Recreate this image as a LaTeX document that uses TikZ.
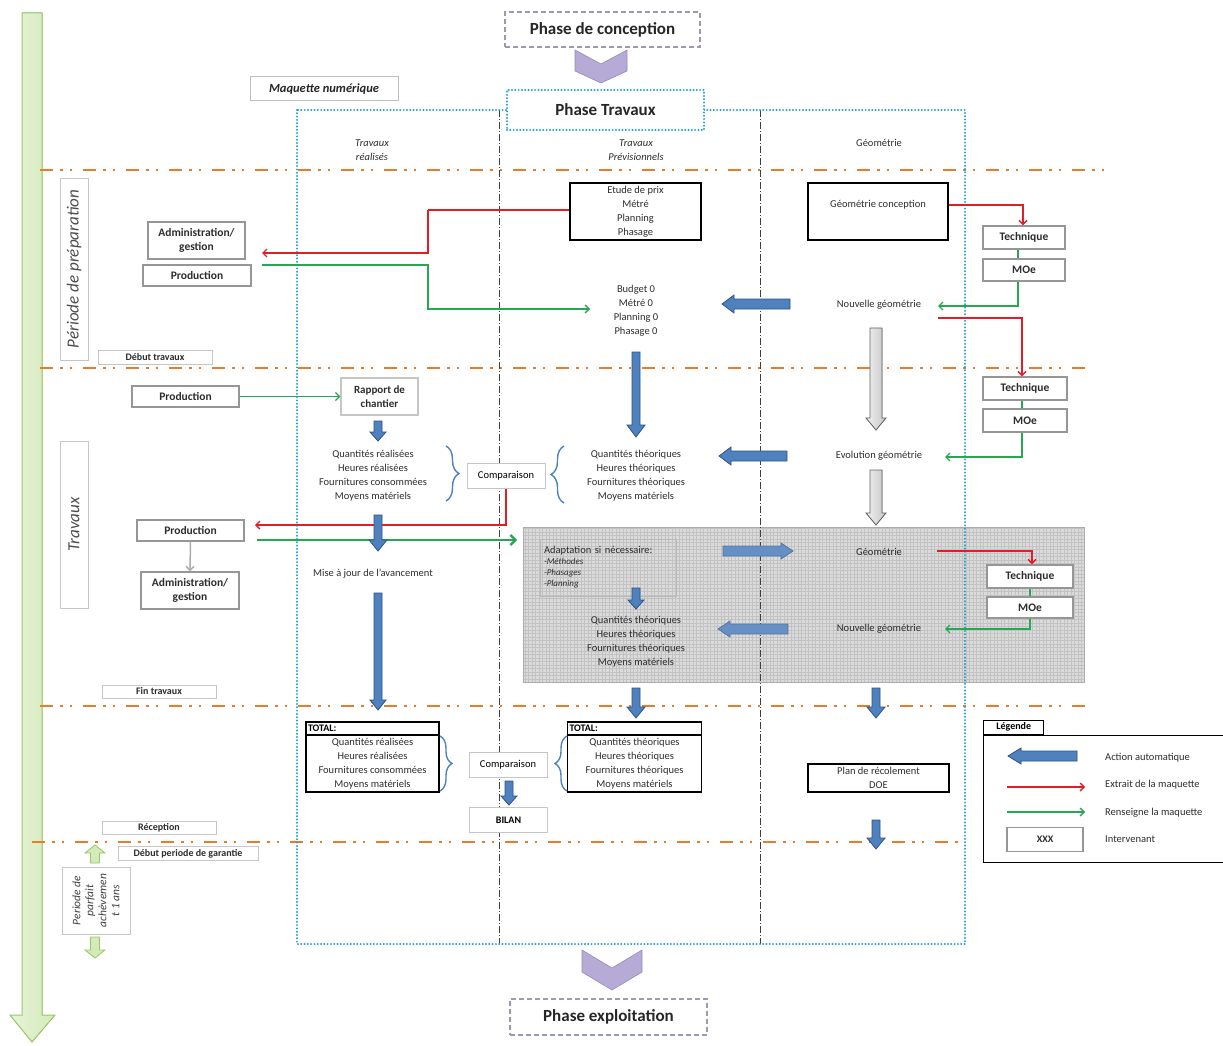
\documentclass[tikz,border=0pt]{standalone}
\usepackage{fontspec}
\setmainfont{Carlito}
\usetikzlibrary{arrows.meta,decorations.pathreplacing,calc}
\definecolor{orng}{RGB}{230,125,45}
\definecolor{cyanb}{RGB}{35,160,205}
\definecolor{redc}{RGB}{225,30,40}
\definecolor{greenc}{RGB}{38,168,82}
\definecolor{bluea}{RGB}{79,129,189}
\definecolor{blued}{RGB}{44,82,140}
\definecolor{purp}{RGB}{182,170,214}
\definecolor{purpd}{RGB}{150,140,185}
\definecolor{phasedash}{RGB}{160,150,180}
\definecolor{boxg}{RGB}{150,150,150}
\definecolor{lgreen}{RGB}{212,234,186}
\definecolor{lgreend}{RGB}{150,200,100}
\definecolor{txtc}{RGB}{45,45,45}
\newcommand\fS{\fontsize{10.5}{14}\selectfont}
\newcommand\fB{\fontsize{11.5}{14}\selectfont}
\newcommand\fL{\fontsize{10}{12}\selectfont}
\newcommand\varr[7]{\filldraw[#7] ({#1-#4},#2) -- ({#1+#4},#2) -- ({#1+#4},{#3-(#6)}) -- ({#1+#5},{#3-(#6)}) -- (#1,#3) -- ({#1-#5},{#3-(#6)}) -- ({#1-#4},{#3-(#6)}) -- cycle;}
\newcommand\harr[7]{\filldraw[#7] (#2,{#1-#4}) -- ({#3-(#6)},{#1-#4}) -- ({#3-(#6)},{#1-#5}) -- (#3,#1) -- ({#3-(#6)},{#1+#5}) -- ({#3-(#6)},{#1+#4}) -- (#2,{#1+#4}) -- cycle;}
\begin{document}
\begin{tikzpicture}[x=1pt,y=-1pt,
  gbox/.style={draw=boxg, line width=1.3pt, fill=white, font=\fB\bfseries, align=center, inner sep=0pt, text=txtc},
  cbox/.style={draw=gray!45, line width=1pt, fill=white, font=\fS, align=center, inner sep=0pt, text=black},
  bbox/.style={draw=black, line width=1.5pt, fill=white, align=center, inner sep=0pt, font=\fS, text=txtc},
  lbox/.style={draw=gray!45, line width=0.8pt, fill=white, font=\fL\bfseries, inner sep=0pt, text=txtc},
  txt/.style={font=\fS, align=center, text=txtc, inner sep=0pt},
  phase/.style={draw=phasedash, line width=1.5pt, dash pattern=on 5pt off 3pt, fill=white, font=\fontsize{17}{20}\selectfont\bfseries, text=black!85, inner sep=0pt},
  orl/.style={draw=orng, line width=2.2pt, dash pattern=on 13pt off 7pt on 2.5pt off 7pt on 2.5pt off 11pt},
  dotb/.style={draw=cyanb, line width=2.2pt, line cap=round, dash pattern=on 0pt off 3.3pt},
  dd/.style={draw=black!75, line width=0.9pt, dash pattern=on 7pt off 2pt on 1pt off 2pt},
  redarr/.style={draw=redc, line width=1.4pt, -{Straight Barb[length=4pt,width=8pt]}},
  redline/.style={draw=redc, line width=1.4pt},
  grnarr/.style={draw=greenc, line width=1.3pt, -{Straight Barb[length=4pt,width=8pt]}},
  grnline/.style={draw=greenc, line width=1.3pt},
  brc/.style={draw=bluea, line width=1.4pt, decorate, decoration={brace, amplitude=#1}},
  barr/.style={fill=bluea, draw=blued, line width=0.8pt},
  barrl/.style={fill=bluea!88, draw=blued!80, line width=0.8pt},
  garr/.style={left color=gray!10, right color=gray!45, draw=gray!75!black, line width=0.8pt},
  lgarr/.style={fill=lgreen, draw=lgreend, line width=0.8pt},
]
\useasboundingbox (0,0) rectangle (1223,1046);
% timeline arrow
\filldraw[left color=lgreen!55!white, right color=lgreen, draw=lgreend, line width=1pt] (22,13) -- (42,13) -- (42,1015) -- (55,1015) -- (32,1042) -- (10,1015) -- (22,1015) -- cycle;
% grey adaptation area
\fill[gray!28] (523,527) rectangle (1084,682);
\begin{scope}
\clip (523,527) rectangle (1084,682);
\draw[gray!48, line width=0.3pt, step=3.5pt] (520,524) grid (1088,686);
\end{scope}
\draw[gray!65, line width=1pt] (523,527) rectangle (1084,682);
% period lines
\draw[orl] (40,170) -- (1105,170);
\draw[orl] (40,368) -- (1090,368);
\draw[orl] (40,706) -- (1085,706);
\draw[orl] (32,842) -- (960,842);
\draw[dd] (499,110) -- (499,944);
\draw[dd] (760,110) -- (760,944);
\draw[dotb] (297,110) rectangle (965,944);
% phases
\node[phase, minimum width=195, minimum height=35] (conc) at (602.5,29.5) {Phase de conception};
\filldraw[fill=purp, draw=purpd, line width=0.6pt] (575,50) -- (601,64) -- (627,50) -- (627,71) -- (601,83) -- (575,71) -- cycle;
\node[draw=cyanb, line width=2.2pt, line cap=round, dash pattern=on 0pt off 3.3pt, fill=white, minimum width=197, minimum height=40, font=\fontsize{17}{20}\selectfont\bfseries, text=black!85, inner sep=0pt] (trav) at (605.5,110) {Phase Travaux};
\filldraw[fill=purp, draw=purpd, line width=0.6pt] (582,950) -- (612,968) -- (642,950) -- (642,972) -- (612,990) -- (582,972) -- cycle;
\node[phase, minimum width=197, minimum height=36] (expl) at (608.5,1017) {Phase exploitation};
\node[draw=gray!50, line width=1pt, fill=white, minimum width=148, minimum height=24, font=\fontsize{12.5}{14}\selectfont\bfseries\itshape, text=black!85, inner sep=0pt] (maq) at (324,89) {Maquette numérique};
% column headers
\node[txt, font=\fS\itshape] (h1) at (372,150) {Travaux\\réalisés};
\node[txt, font=\fS\itshape] (h2) at (636,150) {Travaux\\Prévisionnels};
\node[txt] (h3) at (879,143) {Géométrie};
% left labels
\node[draw=gray!45, line width=1pt, rotate=90, minimum width=182, minimum height=28, font=\fontsize{17}{20}\selectfont\itshape, text=black!70, inner sep=0pt] (prep) at (74,269) {Période de préparation};
\node[draw=gray!45, line width=1pt, rotate=90, minimum width=167, minimum height=28, font=\fontsize{17}{20}\selectfont\itshape, text=black!70, inner sep=0pt] (travx) at (74,524.5) {Travaux};
\node[draw=gray!45, line width=0.8pt, fill=white, rotate=90, minimum width=67, minimum height=68, align=center, font=\fontsize{11.5}{13}\selectfont\itshape, text=black!75, inner sep=0pt] (parf) at (96,900.5) {Periode de\\parfait\\achèvemen\\t 1 ans};
\varr{95}{863}{845}{4.5}{10}{-8}{lgarr}
\varr{95}{937}{958}{4.5}{10}{8}{lgarr}
\node[lbox, minimum width=114, minimum height=14] (dt) at (155,357) {Début travaux};
\node[lbox, minimum width=114, minimum height=13] (ft) at (159,691.5) {Fin travaux};
\node[lbox, minimum width=114, minimum height=13] (rc) at (159,828) {Réception};
\node[lbox, minimum width=140, minimum height=14] (dg) at (188,853.5) {Début periode de garantie};
% ---- preparation period ----
\node[gbox, minimum width=97, minimum height=37] (admin1) at (196.5,240.5) {Administration/\\gestion};
\node[gbox, minimum width=108, minimum height=21] (prod1) at (197,275.5) {Production};
\node[bbox, minimum width=131, minimum height=57] (etude) at (635.5,211.5) {Etude de prix\\Métré\\Planning\\Phasage};
\node[txt] (budget) at (636,311) {Budget 0\\Métré 0\\Planning 0\\Phasage 0};
\node[bbox, minimum width=140, minimum height=57] (geoc) at (878,211.5) {};
\node[txt] (geoct) at (878,205) {Géométrie conception};
\node[gbox, minimum width=82, minimum height=23] (tech1) at (1024,237.5) {Technique};
\node[gbox, minimum width=82, minimum height=22] (moe1) at (1024,270) {MOe};
\node[txt] (nouv1) at (879,305) {Nouvelle géométrie};
\node[gbox, minimum width=84, minimum height=23] (tech2) at (1025,388.5) {Technique};
\node[gbox, minimum width=84, minimum height=23] (moe2) at (1025,420.5) {MOe};
\node[txt] (evol) at (879,456) {Evolution géométrie};
\coordinate (r1s) at (569,210);
\coordinate (r1a) at (428,210);
\coordinate (r1b) at (428,253);
\coordinate (r1e) at (262,253);
\coordinate (g1s) at (262,265);
\coordinate (g1a) at (428,265);
\coordinate (g1e) at (590,309);
\coordinate (g3e) at (938,306);
\coordinate (r3s) at (938,318);
\coordinate (g4e) at (945,457);
\draw[redline] (r1s) -- (r1a);
\draw[redarr] (r1a) -- (r1b) -- (r1e);
\draw[grnarr] (g1s) -- (g1a) |- (g1e);
\draw[redarr] ($(geoc.east)+(0,-6.5)$) -| ($(tech1.north)+(-1,0)$);
\draw[grnline] ($(tech1.south)+(-6,0)$) -- ($(moe1.north)+(-6,0)$);
\draw[grnarr] ($(moe1.south)+(-6,0)$) |- (g3e);
\draw[redarr] (r3s) -| ($(tech2.north)+(-3,0)$);
\draw[grnline] ($(tech2.south)+(-3,0)$) -- ($(moe2.north)+(-3,0)$);
\draw[grnarr] ($(moe2.south)+(-3,0)$) |- (g4e);
\harr{304}{790}{722}{5}{9}{-12}{barr}
\varr{636}{352}{437}{4}{9}{12}{barr}
\varr{876}{328}{430}{6}{10}{12}{garr}
% ---- works period ----
\node[gbox, minimum width=107, minimum height=21] (prod2) at (185.5,396.5) {Production};
\node[gbox, font=\fontsize{11}{13.5}\selectfont\bfseries, draw=gray!45, minimum width=77, minimum height=37] (rapport) at (379.5,396.5) {Rapport de\\chantier};
\draw[grnarr] (prod2.east) -- (rapport.west);
\varr{378}{421}{441}{4}{8}{9}{barr}
\node[txt] (qr) at (373,476) {Quantités réalisées\\Heures réalisées\\Fournitures consommées\\Moyens matériels};
\node[cbox, minimum width=78, minimum height=25] (comp1) at (506,475.5) {Comparaison};
\node[txt] (qt) at (636,476) {Quantités théoriques\\Heures théoriques\\Fournitures théoriques\\Moyens matériels};
\draw[brc=13pt] (446,446) -- (446,501);
\draw[brc=13pt] (564,503) -- (564,446);
\harr{456}{787}{719}{5}{9}{-12}{barr}
\varr{876}{470}{525}{6}{10}{12}{garr}
\node[gbox, minimum width=107, minimum height=21] (prod3) at (190.5,530.5) {Production};
\node[gbox, minimum width=98, minimum height=37] (admin2) at (190,590.5) {Administration/\\gestion};
\coordinate (r4e) at (255,525);
\coordinate (g6s) at (257,540);
\coordinate (g6e) at (517,540);
\draw[redarr] (comp1.south) |- (r4e);
\draw[gray!65, line width=1.5pt, -{Straight Barb[length=4pt,width=8pt]}] (prod3.south) -- (admin2.north);
\draw[greenc, line width=2.2pt, -{Straight Barb[length=5pt,width=10pt]}] (g6s) -- (g6e);
\varr{378}{515}{551}{4}{9}{11}{barr}
\node[txt] (maj) at (373,574) {Mise à jour de l'avancement};
\varr{378}{593}{710}{4}{8}{10}{barr}
% adaptation area
\node[draw=gray!55, line width=0.6pt, minimum width=136, minimum height=57, text width=128, align=left, font=\fS, text=txtc, inner xsep=4pt, inner ysep=0pt] (adapt) at (608,567.5) {Adaptation si nécessaire:\\[-3pt]{\fontsize{9}{10}\selectfont\itshape -Méthodes}\\[-3pt]{\fontsize{9}{10}\selectfont\itshape -Phasages}\\[-3pt]{\fontsize{9}{10}\selectfont\itshape -Planning}};
\harr{551}{723}{793}{5}{8}{12}{barrl}
\node[txt] (geo3) at (879,552) {Géométrie};
\node[gbox, minimum width=86, minimum height=23] (tech3) at (1030,576.5) {Technique};
\node[gbox, minimum width=86, minimum height=21] (moe3) at (1030,607.5) {MOe};
\coordinate (r5s) at (937,551);
\coordinate (g7e) at (945,629);
\draw[redarr] (r5s) -| ($(tech3.north)+(2,0)$);
\draw[grnline] (tech3.south) -- (moe3.north);
\draw[grnarr] (moe3.south) |- (g7e);
\varr{636}{588}{609}{4}{8}{9}{barr}
\node[txt] (qt2) at (636,642) {Quantités théoriques\\Heures théoriques\\Fournitures théoriques\\Moyens matériels};
\harr{629}{788}{718}{5}{8}{-12}{barrl}
\node[txt] (nouv3) at (879,629) {Nouvelle géométrie};
\varr{636}{688}{718}{4}{9}{11}{barr}
\varr{876}{688}{718}{4}{9}{11}{barr}
% ---- reception ----
\node[draw=black, line width=1.4pt, minimum width=133, minimum height=70] (tot1) at (372.5,757) {};
\node[draw=black, line width=1.4pt, minimum width=133, minimum height=13, anchor=north, text width=129, align=left, font=\fL\bfseries, text=black, inner sep=0pt] (tot1h) at (tot1.north) {TOTAL:};
\node[txt] (tot1t) at (372.5,764) {Quantités réalisées\\Heures réalisées\\Fournitures consommées\\Moyens matériels};
\node[draw=black, line width=1.4pt, minimum width=134, minimum height=70] (tot2) at (634.5,757) {};
\node[draw=black, line width=1.4pt, minimum width=134, minimum height=13, anchor=north, text width=130, align=left, font=\fL\bfseries, text=black, inner sep=0pt] (tot2h) at (tot2.north) {TOTAL:};
\node[txt] (tot2t) at (634.5,764) {Quantités théoriques\\Heures théoriques\\Fournitures théoriques\\Moyens matériels};
\draw[brc=12pt] (440,736) -- (440,791);
\draw[brc=12pt] (567,791) -- (567,736);
\node[cbox, minimum width=78, minimum height=25] (comp2) at (508,764.5) {Comparaison};
\node[cbox, font=\fL\bfseries, minimum width=78, minimum height=25] (bilan) at (508.5,820) {BILAN};
\varr{509}{781}{805}{4}{8}{9}{barr}
\node[bbox, minimum width=141, minimum height=28] (plan) at (878.5,778) {Plan de récolement\\DOE};
\varr{876}{820}{849}{4}{9}{11}{barr}
% ---- legend ----
\node[draw=black, line width=1.4pt, fill=white, minimum width=240, minimum height=127, anchor=north west] (leg) at (983,735) {};
\node[draw=black, line width=1.4pt, fill=white, minimum width=60, minimum height=14, anchor=south west, font=\fL\bfseries, text=black, inner sep=0pt] (legt) at (983,735) {Légende};
\harr{756}{1077}{1008}{5}{8}{-13}{barr}
\coordinate (lr1) at (1007,787);
\coordinate (lr2) at (1085,787);
\coordinate (lg1) at (1007,812);
\coordinate (lg2) at (1085,812);
\draw[redarr] (lr1) -- (lr2);
\draw[grnarr] (lg1) -- (lg2);
\node[gbox, font=\fL\bfseries, minimum width=76, minimum height=24] (xxx) at (1045,839.5) {XXX};
\node[txt, anchor=west] (l1) at (1105,758) {Action automatique};
\node[txt, anchor=west] (l2) at (1105,785) {Extrait de la maquette};
\node[txt, anchor=west] (l3) at (1105,813) {Renseigne la maquette};
\node[txt, anchor=west] (l4) at (1105,839.5) {Intervenant};
\end{tikzpicture}
\end{document}
